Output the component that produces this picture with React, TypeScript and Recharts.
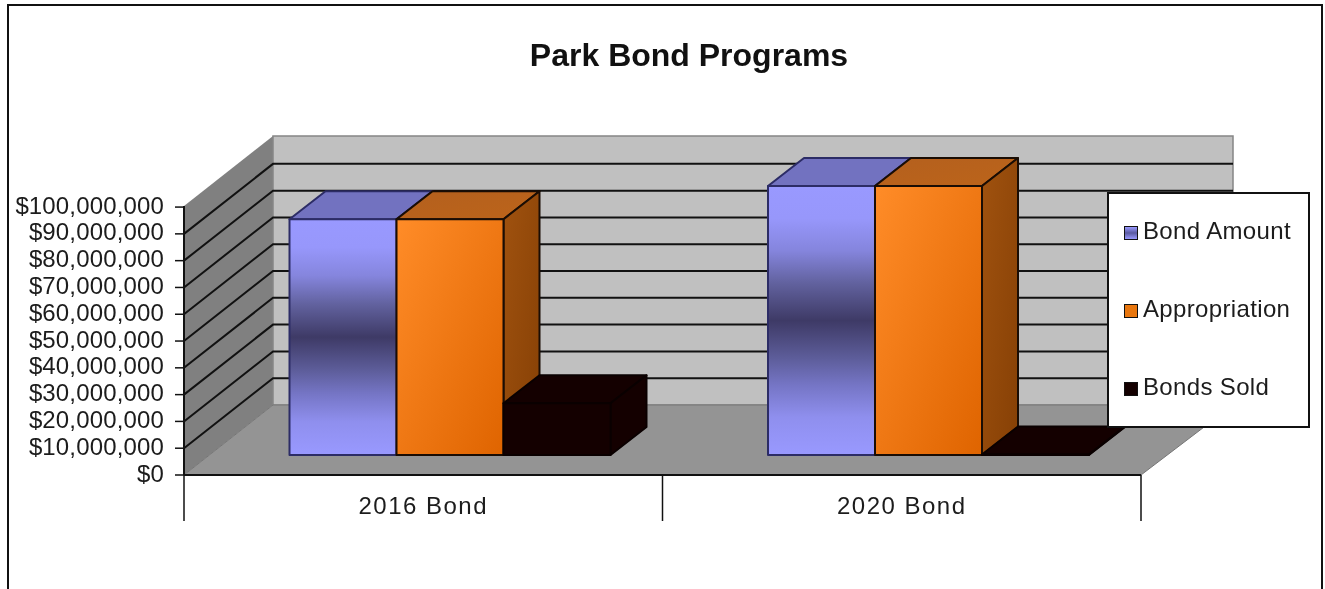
import React from "react";
import { BarChart, Bar, XAxis, YAxis, CartesianGrid, Legend } from "recharts";

const categories = ["2016 Bond", "2020 Bond"];
const bondAmount = [88000000, 100400000];
const appropriation = [88000000, 100400000];
const bondsSold = [19300000, 200000];
const yTicks = [0, 10000000, 20000000, 30000000, 40000000, 50000000, 60000000, 70000000, 80000000, 90000000, 100000000];
const seriesNames = ["Bond Amount", "Appropriation", "Bonds Sold"];

const chartData = categories.map((name, i) => ({
  name,
  "Bond Amount": bondAmount[i],
  Appropriation: appropriation[i],
  "Bonds Sold": bondsSold[i],
}));

const FONT = "'Liberation Sans', Arial, sans-serif";
const TEXT = "#1c1c1c";

// the 3d look: how far back the walls go, and where a bar stands on the floor
const WALL_DX = 89;
const WALL_DX_RIGHT = 92;
const WALL_DY = 70;
const BAR_DX = 26.5;
const BAR_DY = 20;
const DEPTH_DX = 36;
const DEPTH_DY = 28;

function pts(list: number[][]) {
  return list.map((p) => p.join(",")).join(" ");
}

// walls and floor are drawn with the first grid line, so they stay behind everything
function WallLine(props: any) {
  const { x1, x2, y1, index, y: top, height } = props;
  const bottom = top + height;
  const isEdge = Math.abs(y1 - bottom) < 2 || Math.abs(y1 - top) < 2;
  return (
    <g>
      {index === 0 && (
        <g>
          <polygon points={pts([[x1, top], [x1 + WALL_DX, top - WALL_DY], [x1 + WALL_DX, bottom - WALL_DY], [x1, bottom]])} fill="#808080" />
          <polygon points={pts([[x1 + WALL_DX, top - WALL_DY], [x2 + WALL_DX_RIGHT, top - WALL_DY], [x2 + WALL_DX_RIGHT, bottom - WALL_DY], [x1 + WALL_DX, bottom - WALL_DY]])} fill="#c0c0c0" stroke="#858585" strokeWidth={1.5} />
          <polygon points={pts([[x1, bottom], [x1 + WALL_DX, bottom - WALL_DY], [x2 + WALL_DX_RIGHT, bottom - WALL_DY], [x2, bottom]])} fill="#949494" stroke="#767676" />
        </g>
      )}
      {!isEdge && (
        <polyline points={pts([[x1, y1], [x1 + WALL_DX, y1 - WALL_DY], [x2 + WALL_DX_RIGHT, y1 - WALL_DY]])} fill="none" stroke="#111" strokeWidth={2} />
      )}
    </g>
  );
}

function Bar3D(props: any) {
  const { x, y, width, height, front, top, side, line } = props;
  const l = x + BAR_DX;
  const r = l + width;
  const t = y - BAR_DY;
  const b = t + height;
  const edge = { stroke: line, strokeWidth: 2, strokeLinejoin: "round" as const };
  return (
    <g>
      <polygon points={pts([[l, t], [l + DEPTH_DX, t - DEPTH_DY], [r + DEPTH_DX, t - DEPTH_DY], [r, t]])} fill={top} {...edge} />
      <polygon points={pts([[r, t], [r + DEPTH_DX, t - DEPTH_DY], [r + DEPTH_DX, b - DEPTH_DY], [r, b]])} fill={side} {...edge} />
      <rect x={l} y={t} width={width} height={height} fill={front} {...edge} />
    </g>
  );
}

function CategoryTick(props: any) {
  const { x, y, width, visibleTicksCount, index, payload } = props;
  const band = width / visibleTicksCount;
  const axisY = y - 8;
  return (
    <g>
      <line x1={x - band / 2} x2={x - band / 2} y1={axisY} y2={axisY + 46} stroke="#111" strokeWidth={1.5} />
      {index === visibleTicksCount - 1 && (
        <line x1={x + band / 2} x2={x + band / 2} y1={axisY} y2={axisY + 46} stroke="#111" strokeWidth={1.5} />
      )}
      <text x={x} y={axisY + 39} textAnchor="middle" fontSize={24} letterSpacing={1.5} fontFamily={FONT} fill={TEXT}>
        {payload.value}
      </text>
    </g>
  );
}

const swatches: Record<string, string> = {
  "Bond Amount": "linear-gradient(#9999ff, #5a5aa0 50%, #9999ff)",
  Appropriation: "#e8760e",
  "Bonds Sold": "#140000",
};

function LegendBox() {
  return (
    <div style={{ boxSizing: "border-box", width: 203, height: 236, background: "#fff", border: "2px solid #111", fontFamily: FONT, fontSize: 24, color: TEXT }}>
      {seriesNames.map((name) => (
        <div key={name} style={{ height: 78, display: "flex", alignItems: "center", paddingLeft: 15, position: "relative", top: -2 }}>
          <span style={{ boxSizing: "border-box", width: 14, height: 14, marginRight: 5, border: "1px solid #111", background: swatches[name], marginTop: 4 }} />
          <span style={{ letterSpacing: 0.35 }}>{name}</span>
        </div>
      ))}
    </div>
  );
}

export default function App() {
  return (
    <div style={{ position: "absolute", left: 0, top: 0, width: 1325, height: 589, background: "#fff", overflow: "hidden", filter: "blur(0.5px)" }}>
      <BarChart width={1325} height={589} data={chartData} barGap={0} barCategoryGap={79} margin={{ top: 206, right: 184, bottom: 0, left: 0 }}>
        <defs>
          <linearGradient id="blueFront" x1="0" y1="0" x2="0" y2="1">
            <stop offset="0" stopColor="#9999ff" />
            <stop offset="0.12" stopColor="#9797fb" />
            <stop offset="0.24" stopColor="#8585dd" />
            <stop offset="0.36" stopColor="#62629f" />
            <stop offset="0.5" stopColor="#3e3a66" />
            <stop offset="0.64" stopColor="#5d5d9a" />
            <stop offset="0.74" stopColor="#7575c5" />
            <stop offset="0.86" stopColor="#8f8fee" />
            <stop offset="1" stopColor="#9999ff" />
          </linearGradient>
          <linearGradient id="orangeFront" x1="0" y1="0" x2="1" y2="1">
            <stop offset="0" stopColor="#ff8c28" />
            <stop offset="1" stopColor="#df6400" />
          </linearGradient>
          <linearGradient id="orangeTop" x1="0" y1="0" x2="1" y2="1">
            <stop offset="0" stopColor="#b4601e" />
            <stop offset="1" stopColor="#bc641a" />
          </linearGradient>
          <linearGradient id="orangeSide" x1="0" y1="0" x2="1" y2="1">
            <stop offset="0" stopColor="#a0520f" />
            <stop offset="1" stopColor="#864005" />
          </linearGradient>
        </defs>
        <rect x={8} y={5} width={1314} height={800} fill="none" stroke="#111" strokeWidth={2} />
        <text x={689} y={66} textAnchor="middle" fontSize={32} fontWeight="bold" fontFamily={FONT} fill="#111">
          Park Bond Programs
        </text>
        <CartesianGrid vertical={false} horizontal={(p: any) => <WallLine {...p} />} />
        <XAxis dataKey="name" height={114} tickLine={false} axisLine={{ stroke: "#111", strokeWidth: 2 }} tick={<CategoryTick />} interval={0} />
        <YAxis
          width={184}
          domain={[0, 100000000]}
          ticks={yTicks}
          interval={0}
          tickSize={9}
          tickMargin={11}
          tickFormatter={(v: number) => "$" + v.toLocaleString("en-US")}
          axisLine={{ stroke: "#111", strokeWidth: 2 }}
          tickLine={{ stroke: "#111", strokeWidth: 1.5 }}
          tick={{ fontSize: 24, fontFamily: FONT, fill: TEXT, dy: -2, letterSpacing: 0.15 }}
        />
        <Legend layout="vertical" align="center" verticalAlign="middle" wrapperStyle={{ left: 1107, top: 192, width: 203, height: 236 }} content={() => <LegendBox />} />
        <Bar dataKey="Bond Amount" isAnimationActive={false} shape={(p: any) => <Bar3D {...p} front="url(#blueFront)" top="#7272c0" side="#5a5aa0" line="#2c2c66" />} />
        <Bar dataKey="Appropriation" isAnimationActive={false} shape={(p: any) => <Bar3D {...p} front="url(#orangeFront)" top="url(#orangeTop)" side="url(#orangeSide)" line="#1a0d04" />} />
        <Bar dataKey="Bonds Sold" isAnimationActive={false} shape={(p: any) => <Bar3D {...p} front="#140000" top="#140000" side="#140000" line="#0a0000" />} />
      </BarChart>
    </div>
  );
}
